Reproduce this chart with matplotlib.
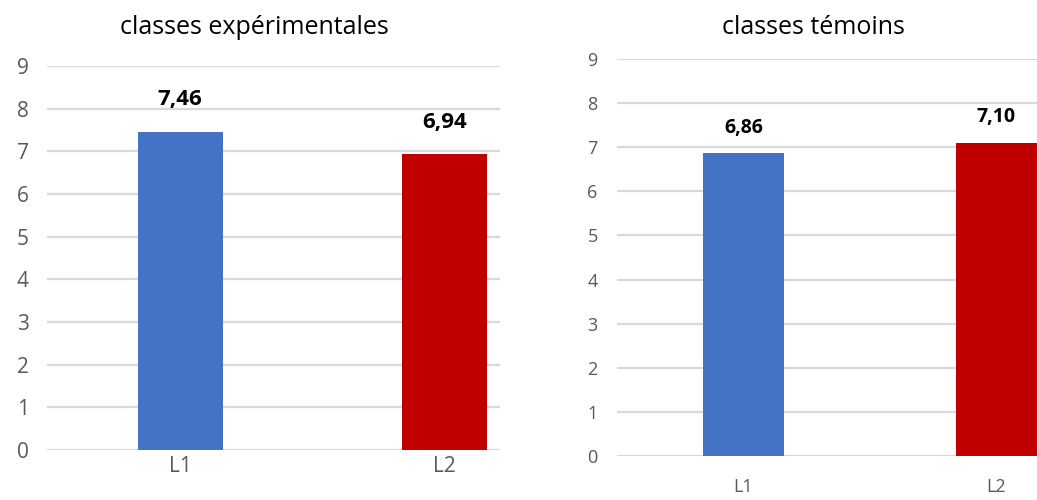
import matplotlib.pyplot as plt
from matplotlib.ticker import MultipleLocator

# données
categories = ['L1', 'L2']
exp_values = [7.46, 6.94]
tem_values = [6.86, 7.10]
labels_exp = ['7,46', '6,94']
labels_tem = ['6,86', '7,10']
bar_colors = ['#4472C4', '#C00000']

fam = ['Open Sans', 'DejaVu Sans']
fig = plt.figure(figsize=(10.37, 5), dpi=100)

def panel(rect, values, labels, xlim, width, tick_pad, xpad, fsz, lab_fs, lab_off):
    ax = fig.add_axes(rect)
    x = range(len(categories))
    ax.bar(x, values, width=width, color=bar_colors, zorder=3)
    for xi, v, lab in zip(x, values, labels):
        ax.text(xi, v + lab_off, lab, ha='center', va='bottom', fontsize=lab_fs,
                fontweight='bold', family=fam, color='black')
    ax.set_ylim(0, 9)
    ax.set_xlim(*xlim)
    ax.yaxis.set_major_locator(MultipleLocator(1))
    ax.grid(axis='y', color='#d9d9d9', linewidth=1.6, zorder=0)
    ax.set_axisbelow(True)
    for s in ax.spines.values():
        s.set_visible(False)
    ax.set_xticks(list(x))
    ax.set_xticklabels(categories)
    ax.tick_params(axis='y', length=0, pad=tick_pad, labelsize=fsz, labelcolor='#595959')
    ax.tick_params(axis='x', length=0, pad=xpad, labelsize=fsz, labelcolor='#595959')
    for t in ax.get_yticklabels() + ax.get_xticklabels():
        t.set_family(fam)
    return ax

ax1 = panel([0.0453, 0.10, 0.437, 0.768], exp_values, labels_exp,
            (-0.504, 1.21), 0.32, 13, 4, 15, 16, 0.5)
ax2 = panel([0.595, 0.088, 0.405, 0.794], tem_values, labels_tem,
            (-0.50, 1.16), 0.32, 14, 16, 13, 14, 0.35)

fig.text(254 / 1037, 1 - 27 / 500, 'classes expérimentales', ha='center', va='center',
         fontsize=18, family=fam)
fig.text(813 / 1037, 1 - 27 / 500, 'classes témoins', ha='center', va='center',
         fontsize=18, family=fam)

fig.savefig('out.png', dpi=100)
